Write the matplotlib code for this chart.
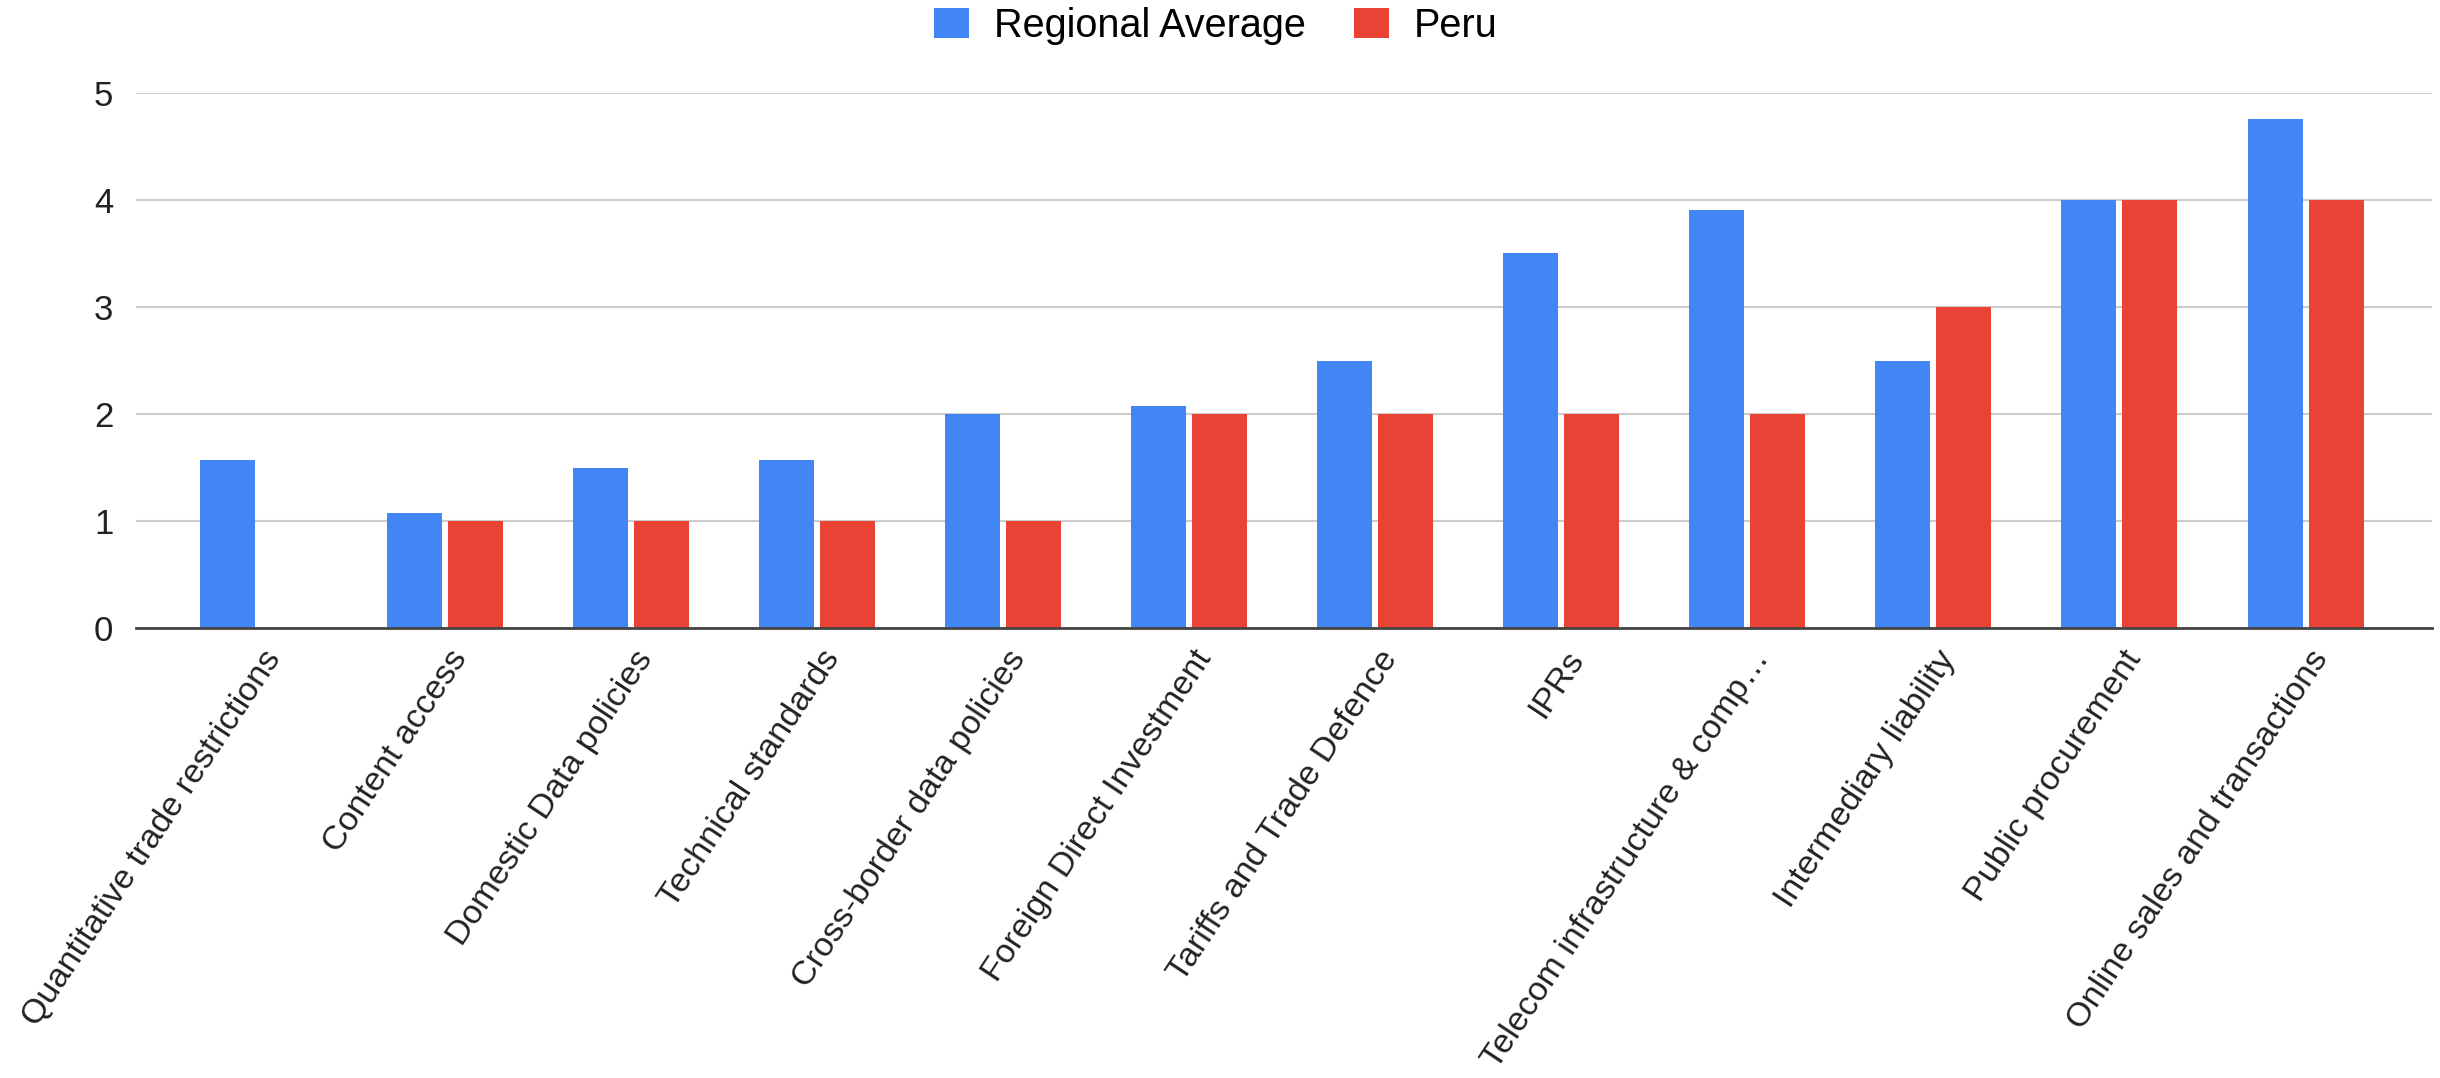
import matplotlib
matplotlib.use("Agg")
import matplotlib.pyplot as plt
import numpy as np
from matplotlib.transforms import ScaledTranslation

categories = [
    "Quantitative trade restrictions",
    "Content access",
    "Domestic Data policies",
    "Technical standards",
    "Cross-border data policies",
    "Foreign Direct Investment",
    "Tariffs and Trade Defence",
    "IPRs",
    "Telecom infrastructure & comp…",
    "Intermediary liability",
    "Public procurement",
    "Online sales and transactions",
]
regional_average = [1.57, 1.08, 1.5, 1.57, 2.0, 2.08, 2.5, 3.5, 3.91, 2.5, 4.0, 4.75]
peru = [0, 1, 1, 1, 1, 2, 2, 2, 2, 3, 4, 4]
series_names = ["Regional Average", "Peru"]
yticks = [0, 1, 2, 3, 4, 5]

BLUE = "#4285F4"
RED = "#EA4335"

plt.rcParams["font.family"] = ["Liberation Sans", "DejaVu Sans"]

fig = plt.figure(figsize=(24.4, 10.78), dpi=100)
ax = fig.add_axes([0.0556, 0.4170, 0.9966 - 0.0556, 0.914 - 0.4170])

x = np.arange(len(categories))
w = 0.2955
off = 0.164
ax.bar(x - off, regional_average, width=w, color=BLUE, label=series_names[0], zorder=2)
ax.bar(x + off, peru, width=w, color=RED, label=series_names[1], zorder=2)

ax.set_xlim(-0.66, len(categories) - 1 + 0.678)
ax.set_ylim(0, 5)
ax.set_yticks(yticks)
ax.set_yticklabels([str(t) for t in yticks], fontsize=25, color="#222222")
ax.grid(axis="y", color="#cccccc", linewidth=1.5, zorder=0)
ax.set_axisbelow(True)
for s in ["top", "right", "left"]:
    ax.spines[s].set_visible(False)
ax.spines["bottom"].set_color("#444444")
ax.spines["bottom"].set_linewidth(2.0)
ax.spines["bottom"].set_zorder(3)
ax.tick_params(axis="y", length=0, pad=16)
ax.tick_params(axis="x", length=0, pad=0)

ax.set_xticks(x)
ax.set_xticklabels(categories, fontsize=24.5, rotation=56.5, ha="right", va="center",
                   rotation_mode="anchor", color="#222222")
shift = ScaledTranslation(16 / 100, -25 / 100, fig.dpi_scale_trans)
for lab in ax.get_xticklabels():
    lab.set_transform(lab.get_transform() + shift)

fig.legend(loc="center", bbox_to_anchor=(0.4983, 1 - 26 / 1078), ncol=2, frameon=False,
           fontsize=28.5, handlelength=0.88, handleheight=0.78, handletextpad=0.63,
           columnspacing=1.21, borderpad=0, borderaxespad=0)

fig.savefig("out.png", dpi=100, facecolor="white")
